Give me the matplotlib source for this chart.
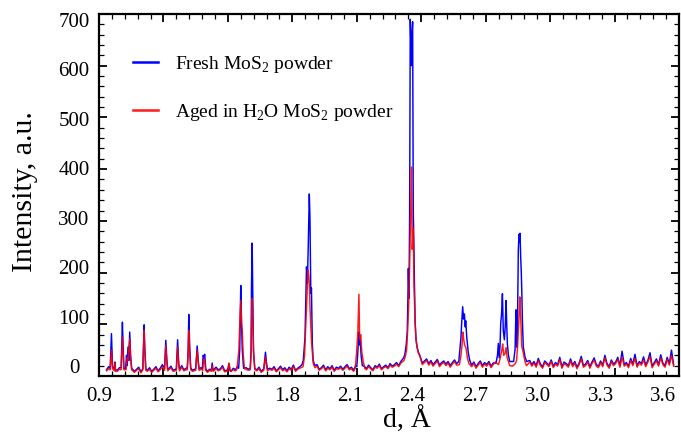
import numpy as np
import matplotlib
matplotlib.use("Agg")
import matplotlib.pyplot as plt
from matplotlib.ticker import MultipleLocator

plt.rcParams['font.family'] = ['Liberation Serif', 'DejaVu Serif']
plt.rcParams['mathtext.fontset'] = 'custom'
plt.rcParams['mathtext.rm'] = 'Liberation Serif'

# baseline (noise), one value every 0.01 A from 0.935 to 3.575
base_d = np.linspace(0.935, 3.575, 265)
base_fresh = [
    12, 18, 9, 15, 20, 11, 16, 8, 14, 19,
    10, 15, 21, 9, 13, 17, 8, 14, 20, 11,
    16, 9, 13, 18, 10, 15, 22, 12, 8, 14,
    19, 11, 16, 9, 13, 20, 12, 15, 8, 17,
    11, 14, 21, 10, 16, 12, 18, 9, 13, 15,
    8, 17, 12, 14, 20, 10, 13, 16, 9, 15,
    12, 18, 11, 14, 9, 16, 13, 19, 10, 15,
    12, 17, 9, 14, 20, 11, 15, 13, 18, 10,
    14, 19, 12, 16, 10, 17, 13, 21, 11, 15,
    18, 13, 20, 14, 17, 12, 19, 15, 22, 13,
    16, 21, 12, 18, 14, 20, 11, 17, 15, 19,
    13, 18, 22, 14, 17, 11, 20, 15, 18, 13,
    19, 14, 21, 16, 12, 20, 17, 23, 14, 18,
    21, 16, 24, 19, 22, 26, 20, 28, 32, 38,
    45, 40, 36, 30, 34, 27, 31, 25, 29, 33,
    24, 30, 22, 27, 32, 21, 26, 29, 23, 28,
    20, 26, 31, 24, 28, 22, 27, 19, 25, 30,
    21, 27, 18, 24, 29, 20, 26, 22, 28, 19,
    25, 30, 22, 27, 20, 28, 24, 31, 26, 22,
    29, 24, 32, 21, 27, 19, 26, 30, 22, 28,
    20, 34, 23, 18, 29, 25, 21, 31, 19, 26,
    22, 36, 18, 27, 24, 20, 33, 21, 28, 17,
    25, 38, 20, 23, 30, 18, 27, 35, 22, 19,
    29, 21, 40, 24, 18, 31, 23, 27, 36, 20,
    48, 22, 26, 19, 34, 23, 42, 20, 28, 24,
    37, 21, 30, 45, 19, 26, 33, 22, 41, 25,
    20, 36, 24, 50, 22,
]
base_aged = [
    10, 14, 7, 12, 16, 9, 13, 6, 11, 15,
    8, 12, 17, 7, 11, 14, 6, 12, 16, 9,
    13, 7, 11, 15, 8, 12, 18, 10, 6, 12,
    16, 9, 13, 7, 11, 17, 10, 12, 6, 14,
    9, 12, 18, 8, 13, 10, 15, 7, 11, 13,
    6, 14, 10, 12, 17, 8, 11, 13, 7, 12,
    10, 15, 9, 12, 7, 13, 11, 16, 8, 12,
    10, 14, 7, 12, 17, 9, 13, 11, 15, 8,
    12, 16, 10, 13, 8, 14, 11, 18, 9, 13,
    15, 11, 17, 12, 14, 10, 16, 13, 19, 11,
    14, 18, 10, 15, 12, 17, 9, 14, 13, 16,
    11, 15, 19, 12, 14, 9, 17, 13, 15, 11,
    16, 12, 18, 14, 10, 17, 15, 20, 12, 16,
    18, 14, 21, 17, 19, 23, 18, 25, 28, 34,
    40, 36, 32, 27, 30, 24, 28, 22, 26, 30,
    21, 27, 19, 24, 29, 18, 23, 26, 20, 25,
    17, 23, 28, 21, 25, 19, 24, 16, 22, 27,
    18, 24, 15, 21, 26, 17, 23, 19, 25, 16,
    22, 27, 19, 24, 17, 25, 21, 28, 23, 19,
    26, 21, 29, 18, 24, 16, 23, 27, 19, 25,
    17, 30, 20, 15, 26, 22, 18, 28, 16, 23,
    19, 32, 15, 24, 21, 17, 29, 18, 25, 14,
    22, 33, 17, 20, 27, 15, 24, 31, 19, 16,
    26, 18, 35, 21, 15, 28, 20, 24, 32, 17,
    37, 19, 23, 16, 30, 20, 34, 17, 25, 21,
    31, 18, 27, 38, 16, 23, 29, 19, 35, 22,
    17, 32, 21, 40, 19,
]

# reflections, points (d in A, intensity)
fresh_peak_d = [
    0.952, 0.958, 0.963, 0.971, 0.974, 0.977,
    1.003, 1.009, 1.012, 1.016,
    1.024, 1.028, 1.031, 1.035, 1.039, 1.043, 1.047, 1.052,
    1.104, 1.110, 1.113, 1.118,
    1.205, 1.211, 1.216, 1.220,
    1.260, 1.266, 1.271, 1.275,
    1.311, 1.315, 1.318, 1.322, 1.327,
    1.350, 1.357, 1.362, 1.366,
    1.381, 1.385, 1.389, 1.392, 1.397,
    1.423, 1.427, 1.431, 1.500, 1.505, 1.510,
    1.550, 1.555, 1.558, 1.560, 1.563, 1.567, 1.573,
    1.604, 1.608, 1.610, 1.613, 1.616, 1.619, 1.625,
    1.667, 1.671, 1.675, 1.679, 1.684,
    1.845, 1.851, 1.859, 1.866, 1.870, 1.874, 1.879, 1.882, 1.886, 1.889, 1.893, 1.897, 1.905,
    2.100, 2.104, 2.108, 2.110, 2.113, 2.116, 2.120, 2.126,
    2.318, 2.324, 2.330, 2.335, 2.338, 2.340, 2.343, 2.346, 2.349, 2.352, 2.355, 2.357,
    2.360, 2.363, 2.366, 2.368, 2.372, 2.376, 2.381, 2.388, 2.395,
    2.575, 2.581, 2.585, 2.588, 2.593, 2.597, 2.601, 2.605, 2.607, 2.612, 2.619, 2.626,
    2.748, 2.755, 2.759, 2.763, 2.767, 2.770, 2.774, 2.778, 2.782, 2.787, 2.791, 2.795,
    2.798, 2.801, 2.806, 2.812,
    2.830, 2.837, 2.841, 2.844, 2.847, 2.850, 2.852, 2.855, 2.857, 2.860, 2.863, 2.866,
    2.869, 2.871, 2.875, 2.883, 2.891,
]
fresh_peak_i = [
    15, 82, 18, 14, 27, 12,
    16, 104, 60, 15,
    14, 40, 20, 56, 30, 85, 40, 15,
    14, 99, 55, 14,
    14, 69, 30, 13,
    14, 70, 25, 12,
    16, 50, 119, 60, 16,
    14, 58, 30, 14,
    14, 40, 35, 42, 14,
    12, 25, 11, 12, 24, 11,
    15, 50, 120, 175, 110, 50, 15,
    15, 50, 179, 257, 146, 50, 14,
    14, 30, 46, 28, 13,
    22, 30, 75, 211, 180, 250, 352, 308, 160, 170, 63, 30, 20,
    18, 40, 70, 85, 60, 75, 40, 20,
    35, 42, 60, 85, 150, 208, 150, 310, 690, 640, 600, 660,
    685, 320, 250, 190, 100, 70, 55, 45, 38,
    28, 55, 75, 100, 134, 110, 120, 95, 107, 75, 45, 30,
    25, 40, 63, 35, 60, 101, 120, 159, 88, 70, 95, 146,
    100, 62, 40, 28,
    28, 52, 128, 80, 55, 160, 243, 274, 260, 276, 230, 199,
    150, 108, 57, 37, 28,
]
aged_peak_d = [
    0.952, 0.958, 0.963, 0.971, 0.974, 0.977,
    1.003, 1.009, 1.012, 1.016,
    1.026, 1.031, 1.035, 1.039, 1.043, 1.047, 1.052,
    1.104, 1.110, 1.113, 1.118,
    1.205, 1.211, 1.216, 1.220,
    1.260, 1.266, 1.271, 1.275,
    1.311, 1.315, 1.318, 1.322, 1.327,
    1.350, 1.357, 1.362, 1.366,
    1.383, 1.387, 1.391, 1.396,
    1.423, 1.427, 1.431, 1.499, 1.505, 1.511,
    1.541, 1.545, 1.551, 1.556, 1.560, 1.564, 1.567, 1.571, 1.577,
    1.604, 1.608, 1.611, 1.613, 1.616, 1.620, 1.626,
    1.667, 1.671, 1.675, 1.679, 1.684,
    1.850, 1.857, 1.863, 1.868, 1.873, 1.877, 1.880, 1.882, 1.886, 1.890, 1.897, 1.905,
    2.093, 2.099, 2.105, 2.110, 2.113, 2.116, 2.118, 2.121, 2.124, 2.130, 2.137,
    2.320, 2.326, 2.332, 2.337, 2.341, 2.345, 2.348, 2.352, 2.355, 2.358, 2.361, 2.363,
    2.366, 2.371, 2.375, 2.379, 2.386, 2.394,
    2.578, 2.585, 2.590, 2.594, 2.598, 2.602, 2.608, 2.615, 2.622,
    2.760, 2.768, 2.775, 2.779, 2.784, 2.790, 2.795, 2.800, 2.806, 2.812,
    2.838, 2.844, 2.849, 2.852, 2.856, 2.859, 2.861, 2.863, 2.866, 2.868, 2.875, 2.883, 2.890,
]
aged_peak_i = [
    12, 50, 14, 10, 25, 9,
    12, 75, 45, 12,
    12, 35, 30, 50, 72, 35, 12,
    12, 88, 50, 11,
    11, 59, 25, 10,
    11, 56, 22, 10,
    12, 40, 88, 45, 12,
    11, 50, 25, 11,
    11, 30, 34, 11,
    9, 20, 9, 10, 25, 9,
    12, 25, 50, 110, 146, 100, 88, 45, 14,
    12, 40, 120, 150, 110, 40, 12,
    11, 25, 37, 22, 10,
    18, 40, 102, 150, 205, 192, 170, 134, 95, 63, 25, 16,
    15, 45, 86, 158, 80, 70, 80, 60, 45, 28, 15,
    30, 38, 50, 90, 130, 190, 250, 340, 404, 245, 270, 286,
    180, 110, 75, 60, 45, 38,
    22, 40, 60, 85, 70, 60, 55, 35, 24,
    22, 35, 50, 62, 40, 43, 55, 35, 28, 20,
    24, 30, 60, 88, 120, 153, 130, 114, 80, 57, 45, 28, 20,
]

x_ticks = [0.9, 1.2, 1.5, 1.8, 2.1, 2.4, 2.7, 3.0, 3.3, 3.6]
x_labels = ['0.9', '1.2', '1.5', '1.8', '2.1', '2.4', '2.7', '3.0', '3.3', '3.6']
y_ticks = [0, 100, 200, 300, 400, 500, 600, 700]


def build_series(base_vals, peak_d, peak_i):
    bd = np.asarray(base_d)
    bv = np.asarray(base_vals, dtype=float)
    pd_ = np.asarray(peak_d)
    pi_ = np.asarray(peak_i, dtype=float)
    # drop baseline samples that fall inside a reflection
    keep = np.array([np.min(np.abs(pd_ - v)) > 0.005 for v in bd])
    d = np.concatenate([bd[keep], pd_])
    y = np.concatenate([bv[keep], pi_])
    order = np.argsort(d)
    return d[order], y[order]


d_fresh, i_fresh = build_series(base_fresh, fresh_peak_d, fresh_peak_i)
d_aged, i_aged = build_series(base_aged, aged_peak_d, aged_peak_i)

fig = plt.figure(figsize=(6.81, 4.37), dpi=100)
rect = [99 / 681, 1 - 376 / 437, 580 / 681, 362 / 437]

# tick labels of the original sit slightly off the ticks, keep them on their own axes
ax_lab = fig.add_axes(rect)
ax_lab.set_xlim(0.928, 3.675)
ax_lab.set_ylim(-20, 712)
ax_lab.set_xticks(x_ticks)
ax_lab.set_xticklabels(x_labels)
ax_lab.set_yticks(y_ticks)
ax_lab.tick_params(length=0, labelsize=15)
ax_lab.tick_params(axis='x', pad=8)
ax_lab.tick_params(axis='y', pad=18)
for t in ax_lab.get_yticklabels():
    t.set_horizontalalignment('center')
for s in ax_lab.spines.values():
    s.set_visible(False)
ax_lab.patch.set_visible(False)

ax = fig.add_axes(rect)
ax.patch.set_visible(False)
ax.plot(d_fresh, i_fresh, color='#0000ff', lw=1.05, label='Fresh MoS$_{\\mathrm{2}}$ powder')
ax.plot(d_aged, i_aged, color='#ff0000', lw=1.05, alpha=0.9,
        label='Aged in H$_{\\mathrm{2}}$O MoS$_{\\mathrm{2}}$ powder')

ax.set_xlim(0.9, 3.6)
ax.set_ylim(0, 700)
ax.set_xticks(x_ticks)
ax.set_yticks(y_ticks)
ax.xaxis.set_minor_locator(MultipleLocator(0.06))
ax.yaxis.set_minor_locator(MultipleLocator(20))
ax.tick_params(which='both', direction='in', top=True, right=True,
               labelbottom=False, labelleft=False)
ax.tick_params(which='major', length=6, width=1.3)
ax.tick_params(which='minor', length=3.5, width=0.9)
for s in ax.spines.values():
    s.set_linewidth(1.6)

ax_lab.set_xlabel('d, Å', fontsize=20)
ax_lab.set_ylabel('Intensity, a.u.', fontsize=21.5)
ax_lab.xaxis.set_label_coords(0.531, -0.086)
ax_lab.yaxis.set_label_coords(-0.105, 0.51)

leg = ax.legend(loc='upper left', bbox_to_anchor=(0.058, 0.89), frameon=False,
                fontsize=14, handlelength=1.3, handletextpad=0.9,
                labelspacing=1.4, borderpad=0, borderaxespad=0)
for line in leg.get_lines():
    line.set_linewidth(1.8)

fig.savefig('out.png', dpi=100)
